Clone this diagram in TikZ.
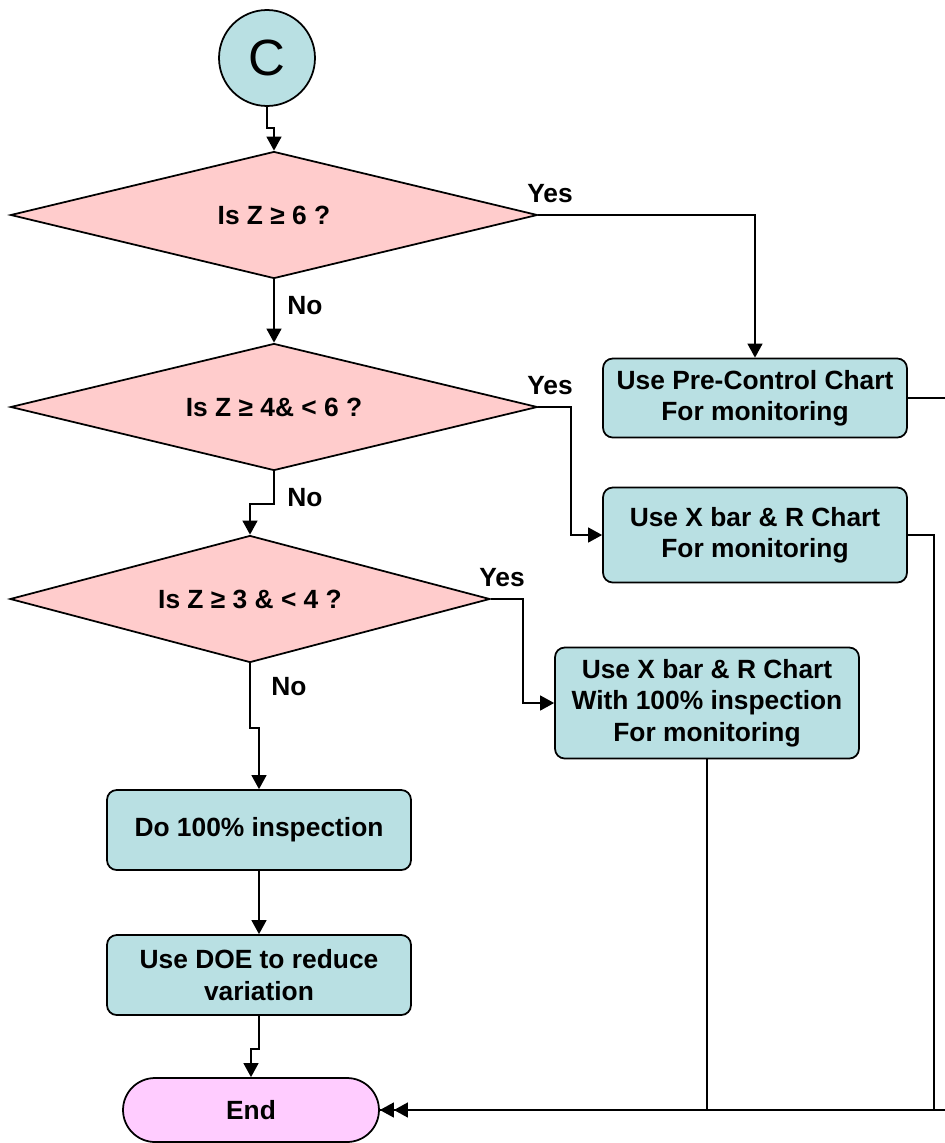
\documentclass[tikz,border=0pt]{standalone}
\usepackage{fontspec}
\setmainfont{Liberation Sans}
\usetikzlibrary{shapes.geometric,shapes.misc,arrows.meta}
\definecolor{boxteal}{HTML}{B9E0E3}
\definecolor{decpink}{HTML}{FFCCCC}
\definecolor{endpink}{HTML}{FFCCFF}
\begin{document}
\begin{tikzpicture}[x=0.02cm, y=-0.02cm,
    line width=1pt,
    txt/.style={font=\fontsize{15}{17.8}\selectfont\bfseries, align=center},
    decision/.style={diamond, aspect=4, draw, fill=decpink, inner sep=0pt, txt},
    action/.style={rectangle, rounded corners=5.5pt, draw, fill=boxteal,
                   minimum width=6.08cm, txt},
    link/.style={-{Triangle[length=8pt,width=8.5pt]}},
    lbl/.style={txt, inner sep=0pt}]

    \useasboundingbox (0,0) rectangle (944,1143);

    % connector and decisions
    \node[circle, draw, fill=boxteal, minimum size=1.92cm, inner sep=0pt,
          font=\fontsize{29}{30}\selectfont] (conn) at (267,58) {C};

    \node[decision, minimum width=10.54cm, minimum height=2.54cm] (zsix) at (274,215) {Is Z ≥ 6 ?};
    \node[decision, minimum width=10.54cm, minimum height=2.54cm] (zfour) at (274,407) {Is Z ≥ 4\& < 6 ?};
    \node[decision, minimum width=9.6cm, minimum height=2.54cm] (zthree) at (250,599) {Is Z ≥ 3 \& < 4 ?};

    % actions
    \node[action, minimum height=1.58cm] (precontrol) at (755,398) {Use Pre-Control Chart\\For monitoring};
    \node[action, minimum height=1.9cm] (xbar) at (755,535) {Use X bar \& R Chart\\For monitoring};
    \node[action, minimum height=2.22cm] (xbarinsp) at (707,703) {Use X bar \& R Chart\\With 100\% inspection\\For monitoring};
    \node[action, minimum height=1.6cm] (inspect) at (259,830) {Do 100\% inspection};
    \node[action, minimum height=1.6cm] (doe) at (259,975) {Use DOE to reduce\\variation};

    \node[rounded rectangle, draw, fill=endpink, minimum width=5.12cm, minimum height=1.28cm,
          inner xsep=0pt, font=\fontsize{15}{17}\selectfont\bfseries] (stop) at (251,1110) {End};

    % labels
    \node[lbl] (yes1) at (550,194) {Yes};
    \node[lbl] (yes2) at (550,386) {Yes};
    \node[lbl] (yes3) at (502,578) {Yes};
    \node[lbl] (no1) at (305,306) {No};
    \node[lbl] (no2) at (305,498) {No};
    \node[lbl] (no3) at (289,687) {No};

    % flow
    \draw[link] (conn.south) -- ++(0,21) -| (zsix.north);
    \draw[link] (zsix.south) -- (zfour.north);
    \draw[link] (zfour.south) -- ++(0,33) -| (zthree.north);
    \draw[link] (zthree.south) -- ++(0,65) -| (inspect.north);
    \draw[link] (inspect.south) -- (doe.north);
    \draw[link] (doe.south) -- ++(0,33) -| (stop.north);

    \draw[link] (zsix.east) -| (precontrol.north);
    \draw[link] (zfour.east) -- ++(33,0) |- (xbar.west);
    \draw[link] (zthree.east) -- ++(32,0) |- (xbarinsp.west);

    % back to end
    \draw (xbarinsp.south) |- (stop.east);
    \draw (xbar.east) -- ++(26,0) |- (stop.east);
    \draw[-{Triangle[length=8pt,width=8.5pt]Triangle[length=8pt,width=8.5pt]}]
        (precontrol.east) -- ++(40,0) |- (stop.east);

\end{tikzpicture}
\end{document}
